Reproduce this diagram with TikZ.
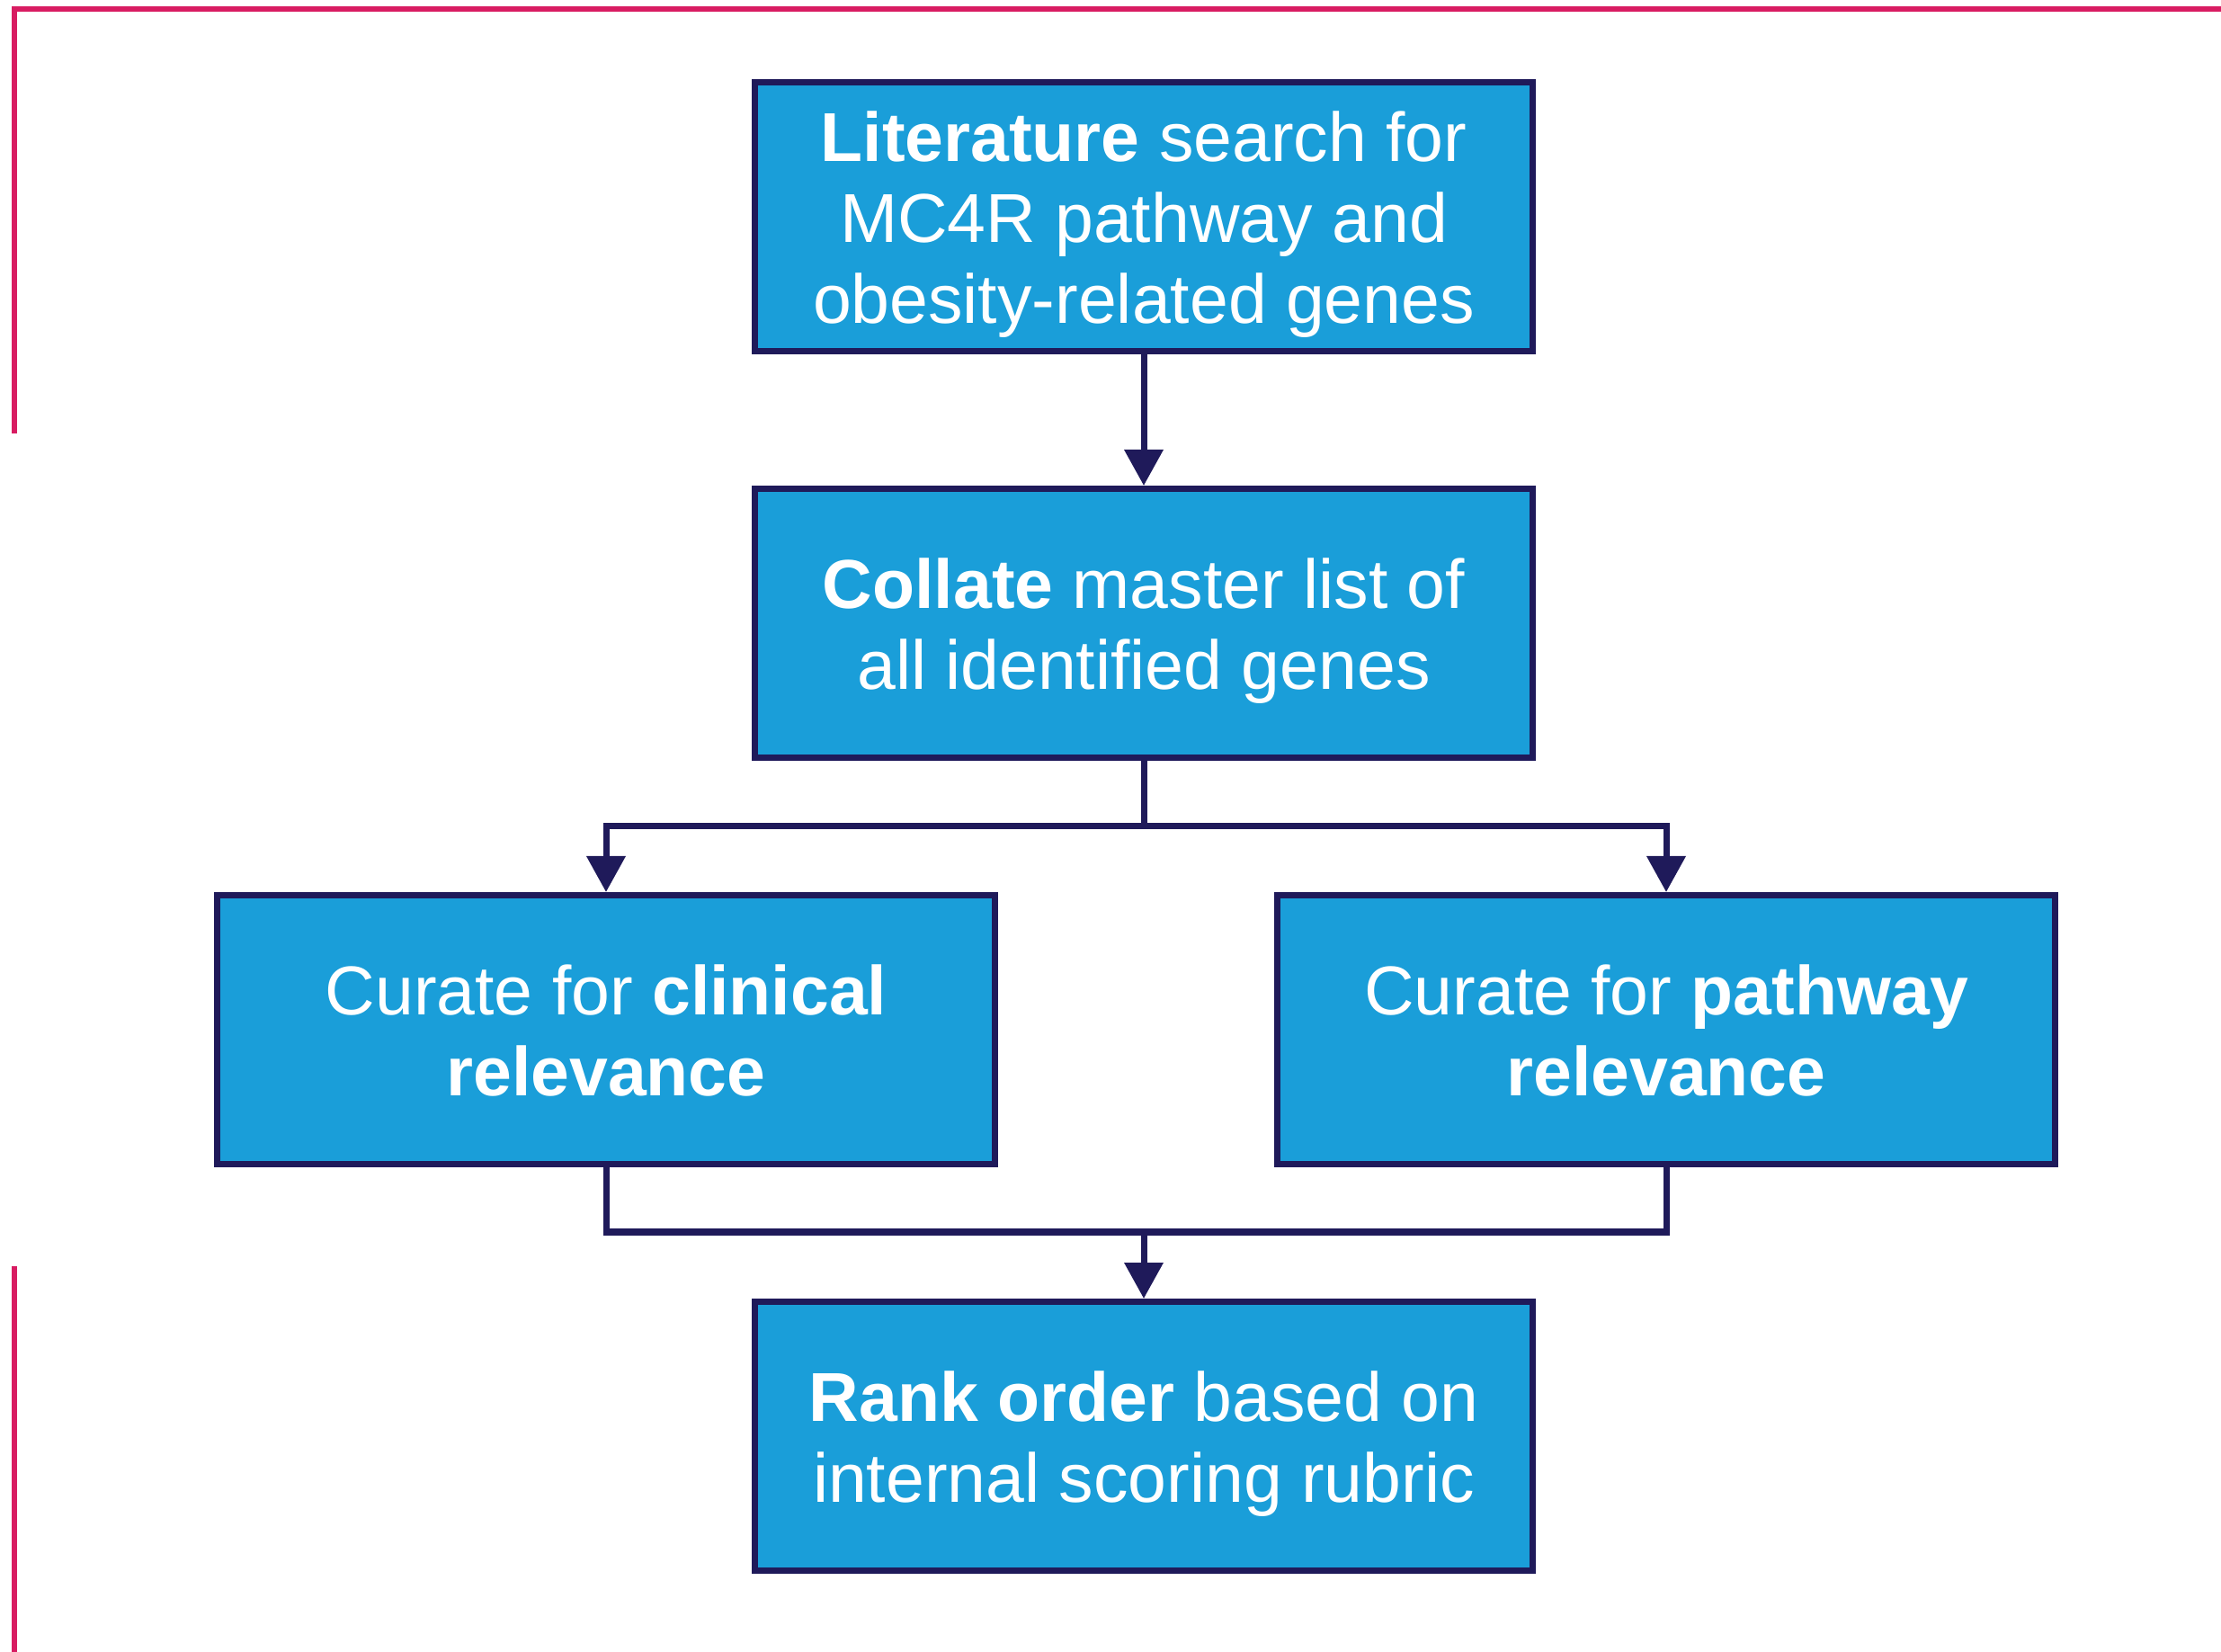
\documentclass[tikz,border=0pt]{standalone}
\usepackage{fontspec}
\setmainfont{Liberation Sans}
\usepackage{tikz}
\usetikzlibrary{arrows.meta,positioning}

\definecolor{boxblue}{HTML}{1A9ED9}
\definecolor{navy}{HTML}{1F1A5A}
\definecolor{rose}{HTML}{D81C62}
\newcommand{\topgap}{\rule{0pt}{21pt}}
\newcommand{\botgap}{\rule[-4.6pt]{0pt}{1pt}}

\begin{document}
\begin{tikzpicture}[>={Triangle[width=0.42cm,length=0.40cm]},node distance=4.52cm,line width=0.07cm]
\tikzstyle{stage}=[rectangle,fill=boxblue,draw=navy,text=white,align=center,
  minimum width=8.65cm,minimum height=2.99cm,inner sep=0pt,
  font=\fontsize{21.9}{25.6}\selectfont]
\tikzstyle{link}=[draw=navy,line join=miter]

\useasboundingbox (0,0) rectangle (24.70,-18.37);

% frame marks
\draw[rose,line width=0.06cm,line join=miter] (0.165,-4.82) -- (0.165,-0.10) -- (24.70,-0.10);
\draw[rose,line width=0.06cm] (0.165,-14.08) -- (0.165,-18.37);

\node[stage] (lit) at (12.72,-2.41) {\topgap\textbf{Literature} search for\\MC4R pathway and\\obesity-related genes};
\node[stage] (coll) [below of=lit] {\topgap\textbf{Collate} master list of\\all identified genes};
\node[stage] (clin) [below of=coll,xshift=-5.98cm] {\topgap Curate for \textbf{clinical}\\\textbf{relevance}\botgap};
\node[stage] (path) [below of=coll,xshift=5.81cm] {\topgap Curate for \textbf{pathway}\\\textbf{relevance}\botgap};
\node[stage] (rank) [below of=coll,yshift=-4.52cm] {\topgap\textbf{Rank order} based on\\internal scoring rubric};

\draw[link,->] (lit) -- (coll);
\draw[link,->] (coll.south) -- ++(0,-0.73) coordinate (split) -| (clin.north);
\draw[link,->] (split) -| (path.north);
\path (clin.south) ++(0,-0.72) coordinate (merge);
\draw[link] (clin.south) -- (merge) -| (path.south);
\draw[link,->] (merge -| rank.north) -- (rank.north);
\end{tikzpicture}
\end{document}
